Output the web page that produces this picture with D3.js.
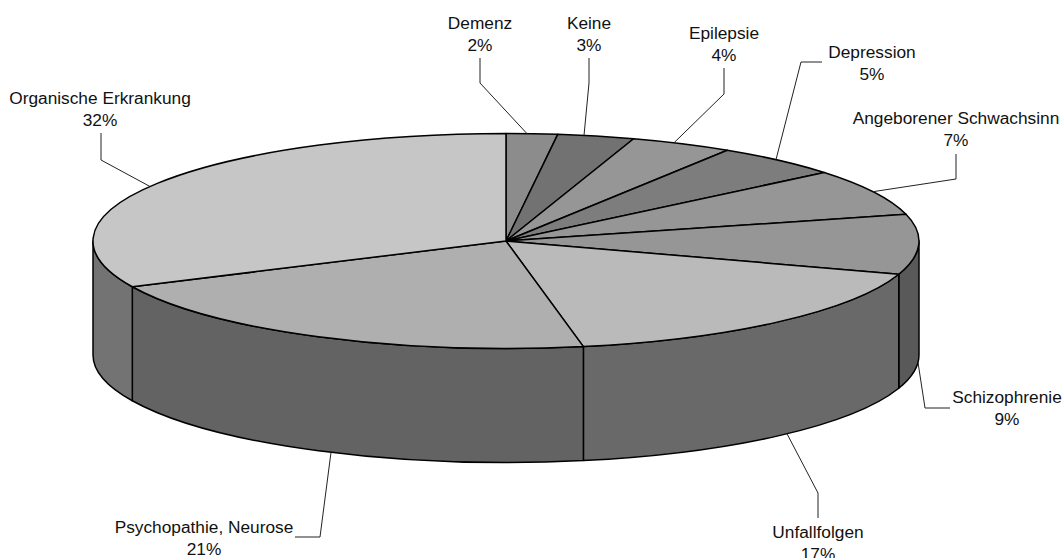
<!DOCTYPE html>
<html>
<head>
<meta charset="utf-8">
<script src="https://cdn.jsdelivr.net/npm/d3@7/dist/d3.min.js"></script>
<style>
html,body{margin:0;padding:0;background:#fff;overflow:hidden}
text{font-family:"Liberation Sans",Arial,sans-serif;font-size:17.3px;fill:#111}
</style>
</head>
<body>
<svg id="chart" width="1062" height="558"></svg>
<script>
// Diagnosis shares, clockwise from twelve o'clock
const categories = ["Demenz","Keine","Epilepsie","Depression","Angeborener Schwachsinn","Schizophrenie","Unfallfolgen","Psychopathie, Neurose","Organische Erkrankung"];
const values = [2,3,4,5,7,9,17,21,32];
const topColors = ["#8c8c8c","#727272","#969696","#7d7d7d","#969696","#969696","#bababa","#afafaf","#c6c6c6"];
const sideColors = ["#5a5a5a","#484848","#5e5e5e","#4e4e4e","#5e5e5e","#595959","#696969","#636363","#737373"];

// Label placement: text centre, first baseline, and the leader's rim x, elbow and end
const labelLayout = [
  {x:480,  y:29,  rim:527, elbow:[480,83],  end:[480,58]},
  {x:589,  y:29,  rim:584, elbow:[589,83],  end:[589,58]},
  {x:724,  y:39,  rim:674, elbow:[724,94],  end:[724,68]},
  {x:872,  y:58,  rim:776, elbow:[801,62],  end:[822,62]},
  {x:956,  y:124, rim:873, elbow:[956,179], end:[956,154]},
  {x:1007, y:403, rim:918, elbow:[925,408], end:[950,408]},
  {x:818,  y:538, rim:787, elbow:[818,493], end:[818,518]},
  {x:204,  y:533, rim:331, elbow:[320,537], end:[295,537]},
  {x:100,  y:104, rim:150, elbow:[101,160], end:[101,133]}
];

const cx = 506, cy = 241, rx = 413, ry = 107.5, depth = 114;
const svg = d3.select("#chart");

const slices = d3.pie().sort(null).value(d => d)(values);
const px = a => cx + rx * Math.sin(a);
const py = (a, dy = 0) => cy + dy - ry * Math.cos(a);

// Elliptical arc command running clockwise on screen between two angles
const arcTo = (a0, a1, dy = 0, sweep = 1) =>
  `A${rx},${ry} 0 ${Math.abs(a1 - a0) > Math.PI ? 1 : 0} ${sweep} ${px(a1)},${py(a1, dy)}`;

// Only the front half of the rim can be seen
const front = [Math.PI / 2, Math.PI * 3 / 2];
const visible = slices
  .map((s, i) => ({i, a0: Math.max(s.startAngle, front[0]), a1: Math.min(s.endAngle, front[1])}))
  .filter(s => s.a1 > s.a0);

svg.append("g").selectAll("path").data(visible).join("path")
  .attr("d", s => `M${px(s.a0)},${py(s.a0)}${arcTo(s.a0, s.a1)}L${px(s.a1)},${py(s.a1, depth)}${arcTo(s.a1, s.a0, depth, 0)}Z`)
  .attr("fill", s => sideColors[s.i])
  .attr("stroke", "#000")
  .attr("stroke-width", 1.5)
  .attr("stroke-linejoin", "round");

svg.append("g").selectAll("path").data(slices).join("path")
  .attr("d", s => `M${cx},${cy}L${px(s.startAngle)},${py(s.startAngle)}${arcTo(s.startAngle, s.endAngle)}Z`)
  .attr("fill", (s, i) => topColors[i])
  .attr("stroke", "#000")
  .attr("stroke-width", 1.5)
  .attr("stroke-linejoin", "round");

// Leaders start on the visible edge of the pie, on the upper or lower ellipse
const leaders = svg.append("g").attr("fill", "none").attr("stroke", "#222").attr("stroke-width", 1);
slices.forEach((s, i) => {
  const mid = (s.startAngle + s.endAngle) / 2;
  const onRim = mid > front[0] && mid < front[1];
  const l = labelLayout[i];
  const u = (l.rim - cx) / rx;
  const rimY = onRim ? cy + depth + ry * Math.sqrt(1 - u * u) : cy - ry * Math.sqrt(1 - u * u);
  leaders.append("path").attr("d", d3.line()([[l.rim, rimY], l.elbow, l.end]));
});

const labels = svg.append("g").attr("text-anchor", "middle");
categories.forEach((c, i) => {
  const l = labelLayout[i];
  labels.append("text").attr("x", l.x).attr("y", l.y).text(c);
  labels.append("text").attr("x", l.x).attr("y", l.y + 22).text(values[i] + "%");
});
</script>
</body>
</html>
